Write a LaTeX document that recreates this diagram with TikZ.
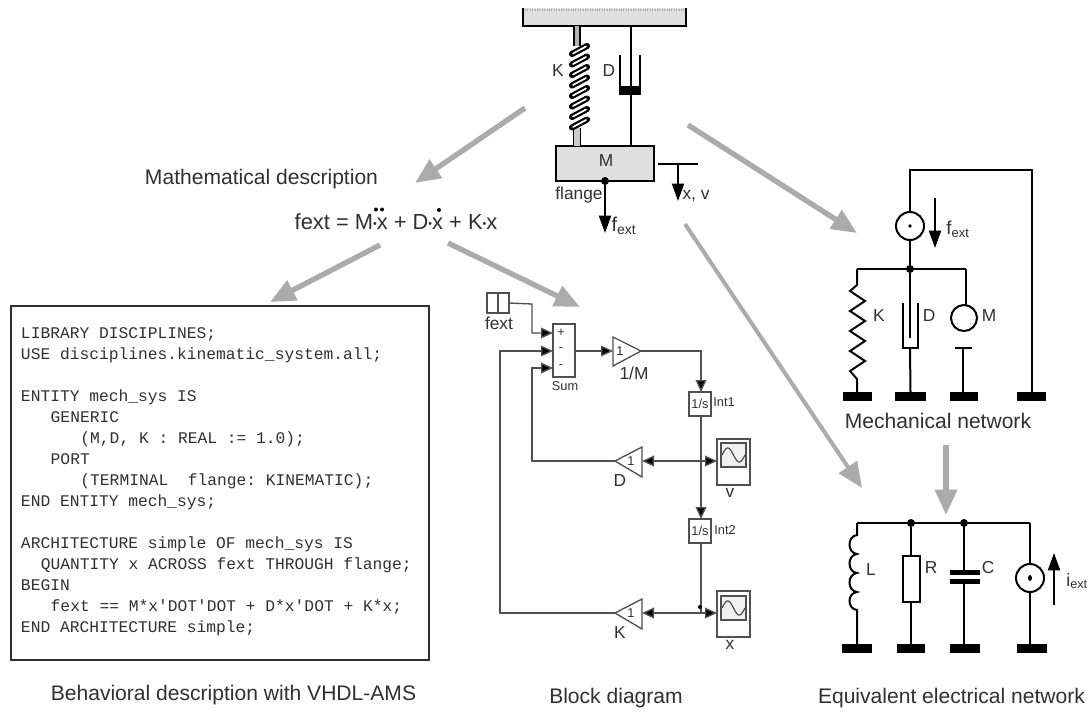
\documentclass[tikz,border=0pt]{standalone}
\usepackage{fontspec}
\setmainfont{Liberation Sans}
\setmonofont{Liberation Mono}
\usetikzlibrary{arrows.meta,calc,patterns}
\definecolor{ink}{HTML}{303030}
\definecolor{bigarrow}{HTML}{ABABAB}
\definecolor{blockline}{HTML}{505050}
\newcommand{\timesdot}{{\fontsize{8}{8}\selectfont\raisebox{1.5pt}{•}}}
\tikzset{
  txt/.style={inner sep=0pt,outer sep=0pt,text=ink,font=\fontsize{13}{15}\selectfont},
  ttl/.style={inner sep=0pt,outer sep=0pt,text=ink,font=\fontsize{15.8}{18}\selectfont},
  sml/.style={inner sep=0pt,outer sep=0pt,text=ink,font=\fontsize{9.6}{11}\selectfont},
  bigarr/.style={draw=bigarrow,line width=4pt,-{Triangle[length=19pt,width=16pt,fill=bigarrow]}},
  wire/.style={draw=black,line width=1.5pt},
  gnd/.style={fill=black,inner sep=0pt,outer sep=0pt,minimum height=6.75pt},
  flow/.style={draw=blockline,line width=1pt},
  tip/.style={flow,-{Triangle[length=9pt,width=8pt,fill=black]}},
  twotip/.style={flow,{Triangle[length=9pt,width=8pt,fill=black]}-{Triangle[length=9pt,width=8pt,fill=black]}},
  bbox/.style={draw=blockline,line width=1pt,inner sep=0pt,outer sep=0pt,fill=white},
  sarr/.style={draw=black,line width=1.5pt,-{Triangle[length=13pt,width=9pt,fill=black]}},
  jn/.style={circle,fill=black,inner sep=0pt,outer sep=0pt,minimum size=6pt},
}
\begin{document}
\begin{tikzpicture}[x=0.75pt,y=-0.75pt]
\useasboundingbox (0,0) rectangle (1089,711);

% ---------- mass-spring-damper ----------
\fill[gray!25] (523,8) rectangle (686,26);
\draw[wire] (523,8) -- (523,26) -- (686,26) -- (686,8);
\draw[gray!70,line width=.8pt,densely dotted] (525,10) -- (684,10);
\node[draw=black,line width=1.5pt,fill=gray!25,inner sep=0pt,minimum width=73.5pt,minimum height=26.25pt,outer sep=0pt] (mass) at (605,163.5) {};
\node[txt] (mlabel) at (606,161) {M};
\coordinate (ceilK) at (577,26);
\coordinate (ceilD) at (631,26);
\fill[gray!60] (574,26) rectangle (580,46);
\draw[black,line width=.9pt] (574,26) -- (574,46) (580,26) -- (580,46);
\draw[black,line width=.9pt] (574,128) -- (574,146) (580,128) -- (580,146);
\fill[gray!40] (574.4,128) rectangle (579.6,146);
\foreach \yy in {50,60.5,71,81.5,92,102.5,113,123.5}{
  \draw[black,line width=4.6pt,line cap=round] (572,\yy+4) -- (587,\yy-4);
  \draw[white,line width=1.3pt,line cap=round] (573,\yy+3.5) -- (586,\yy-3.5);
}
\draw[wire] (ceilD) -- (631,146);
\draw[black,line width=1.5pt] (620,55) -- (620,94) -- (640,94) -- (640,55);
\fill[black] (620,86) rectangle (640,94);
\node[txt] (klabel) at (558,71) {K};
\node[txt] (dlabel) at (609,71) {D};
\node[jn] (flangedot) at (605,181) {};
\node[txt] (flangelabel) at (579,195) {flange};
\coordinate (fend) at (605,233);
\draw[sarr] (flangedot) -- (fend);
\node[txt,font=\fontsize{15}{17}\selectfont] (fextlabel) at (624,226) {f\textsubscript{ext}};
\coordinate (xva) at (658,164);
\coordinate (xvb) at (698,164);
\coordinate (xvc) at (678,164);
\coordinate (xvd) at (678,201);
\draw[wire] (xva) -- (xvb);
\draw[sarr] (xvc) -- (xvd);
\node[txt] (xvlabel) at (696,196) {x, v};

% ---------- big gray arrows ----------
\coordinate (a1s) at (525,108); \coordinate (a1e) at (415,183);
\coordinate (a2s) at (380,245); \coordinate (a2e) at (270,302);
\coordinate (a3s) at (448,243); \coordinate (a3e) at (580,307);
\coordinate (a4s) at (688,125); \coordinate (a4e) at (857,233);
\coordinate (a5s) at (685,224); \coordinate (a5e) at (862,488);
\coordinate (a6s) at (946,445); \coordinate (a6e) at (946,515);
\draw[bigarr] (a1s) -- (a1e);
\draw[bigarr] (a2s) -- (a2e);
\draw[bigarr] (a3s) -- (a3e);
\draw[bigarr] (a4s) -- (a4e);
\draw[bigarr,line width=3pt] (a5s) -- (a5e);
\draw[bigarr] (a6s) -- (a6e);

% ---------- mathematical description ----------
\node[ttl] (mathtitle) at (261.5,179) {Mathematical description};
\node[ttl,font=\fontsize{16.4}{18}\selectfont] (equation) at (396,222) {fext = M\timesdot x + D\timesdot x + K\timesdot x};
\fill[black] (376,209.5) circle[radius=2] (382,209.5) circle[radius=2];
\fill[black] (439,210) circle[radius=2];

% ---------- VHDL-AMS box ----------
\node[draw=ink,line width=1.8pt,inner sep=0pt,outer sep=0pt,minimum width=313.5pt,minimum height=265.5pt] (codebox) at (220,483) {};
\node[anchor=north west,inner sep=0pt,outer sep=0pt,text=ink,align=left,font=\ttfamily\fontsize{12.2}{15.75}\selectfont] (code) at (21,328) {%
LIBRARY DISCIPLINES;\\
USE disciplines.kinematic\_system.all;\\
\mbox{}\\
ENTITY mech\_sys IS\\
\hspace*{22.3pt}GENERIC\\
\hspace*{44.6pt}(M,D, K : REAL := 1.0);\\
\hspace*{22.3pt}PORT\\
\hspace*{44.6pt}(TERMINAL\ \ flange: KINEMATIC);\\
END ENTITY mech\_sys;\\
\mbox{}\\
ARCHITECTURE simple OF mech\_sys IS\\
\hspace*{14.9pt}QUANTITY x ACROSS fext THROUGH flange;\\
BEGIN\\
\hspace*{22.3pt}fext == M*x'DOT'DOT + D*x'DOT + K*x;\\
END ARCHITECTURE simple;};
\node[ttl] (codetitle) at (233.5,695) {Behavioral description with VHDL-AMS};

% ---------- block diagram ----------
\node[bbox,minimum width=16.5pt,minimum height=15pt] (step) at (498,303) {};
\draw[blockline,line width=.8pt] (498,293) -- (498,313);
\node[txt] (steplabel) at (499,323) {fext};
\node[bbox,minimum width=16.5pt,minimum height=39.75pt] (sum) at (564,350.5) {};
\node[sml] (plus) at (561,333) {+};
\node[sml] (minusa) at (561,350) {-};
\node[sml] (minusb) at (561,367) {-};
\node[sml] (sumlabel) at (565,386) {Sum};
\coordinate (sumin1) at (553,333);
\coordinate (sumin2) at (553,351);
\coordinate (sumin3) at (553,368);
\coordinate (j1) at (532,304); \coordinate (j2) at (532,333);
\draw[tip] (step.east) -- (j1) -- (j2) -- (sumin1);
% gains
\coordinate (mgi) at (613,351); \coordinate (mgo) at (641,351);
\draw[flow,fill=white] (613,337) -- (mgo) -- (613,366) -- cycle;
\node[sml] (mgaintext) at (620,351) {1};
\node[txt] (mgainlabel) at (634,373) {1/M};
\draw[tip] (sum.east |- mgi) -- (mgi);
\node[bbox,minimum width=16.5pt,minimum height=18pt] (int1) at (700,404) {};
\node[sml] (int1text) at (700,404) {1/s};
\node[sml] (int1label) at (724,402) {Int1};
\node[bbox,minimum width=16.5pt,minimum height=18pt] (int2) at (700,531) {};
\node[sml] (int2text) at (700,531) {1/s};
\node[sml] (int2label) at (725,530) {Int2};
\coordinate (c1) at (701,351);
\draw[tip] (mgo) -- (c1) -- (c1 |- int1.north);
\draw[tip] (c1 |- int1.south) -- (c1 |- int2.north);
\coordinate (dgi) at (642,461); \coordinate (dgo) at (615,461);
\draw[flow,fill=white] (642,447) -- (dgo) -- (642,477) -- cycle;
\node[sml] (dgaintext) at (631,461) {1};
\node[txt] (dgainlabel) at (620,481) {D};
\coordinate (kgi) at (642,613); \coordinate (kgo) at (615,613);
\draw[flow,fill=white] (642,599) -- (kgo) -- (642,629) -- cycle;
\node[sml] (kgaintext) at (631,613) {1};
\node[txt] (kgainlabel) at (620,633) {K};
% scopes
\node[bbox,line width=1.2pt,minimum width=24.75pt,minimum height=34.5pt] (vscope) at (733.5,462) {};
\draw[blockline,line width=1pt,fill=gray!12] (721,443) rectangle (746,467);
\draw[blockline,line width=.9pt] plot[domain=0:360,samples=30] ({722+\x/360*23},{455-7*sin(\x)});
\node[txt] (vlabel) at (730,493) {v};
\node[bbox,line width=1.2pt,minimum width=24.75pt,minimum height=34.5pt] (xscope) at (733.5,614) {};
\draw[blockline,line width=1pt,fill=gray!12] (721,596) rectangle (746,620);
\draw[blockline,line width=.9pt] plot[domain=0:360,samples=30] ({722+\x/360*23},{608-7*sin(\x)});
\node[txt] (xlabel) at (730,645) {x};
\draw[twotip] (dgi) -- (vscope.west |- dgi);
\draw[twotip] (kgi) -- (xscope.west |- kgi);
\coordinate (c2) at (701,613);
\draw[flow] (c1 |- int2.south) -- (c2);
\node[circle,fill=black,inner sep=0pt,minimum size=3pt] (kdot) at (700,607) {};
\coordinate (l1) at (532,461);
\draw[tip] (dgo) -- (l1) -- (l1 |- sumin3) -- (sumin3);
\coordinate (l2) at (500,613);
\draw[tip] (kgo) -- (l2) -- (l2 |- sumin2) -- (sumin2);
\node[ttl] (blocktitle) at (616,698) {Block diagram};

% ---------- mechanical network ----------
\node[gnd,minimum width=21.75pt] (mg1) at (857.5,396.5) {};
\node[gnd,minimum width=23.25pt] (mg2) at (910.5,396.5) {};
\node[gnd,minimum width=21pt] (mg3) at (964,396.5) {};
\node[gnd,minimum width=21.75pt] (mg4) at (1031.5,396.5) {};
\node[draw=black,line width=1.5pt,circle,inner sep=0pt,minimum size=21pt] (fsrc) at (910,226) {};
\fill[black] (fsrc.center) circle[radius=1.8];
\node[jn] (mjn) at (910,269) {};
\coordinate (lt) at (910,170); \coordinate (rt) at (1032,170);
\draw[wire] (fsrc.north) -- (lt) -- (rt) -- (rt |- mg4.north);
\draw[wire] (fsrc.south) -- (mjn);
\coordinate (kt) at (857,269); \coordinate (mt) at (966,269);
\draw[wire] (kt) -- (mt);
\draw[wire] (kt) -- (857,285) -- (850,291) -- (865,301) -- (850,311) -- (865,321) -- (850,331) -- (865,341) -- (850,351) -- (865,361) -- (850,371) -- (857,379) -- (857,392);
\draw[wire] (mjn) -- (910,338);
\draw[wire] (903,303) -- (903,348) -- (918,348) -- (918,303);
\draw[wire] (910,348) -- (mg2.north);
\node[draw=black,line width=1.5pt,circle,inner sep=0pt,minimum size=19.5pt] (msrc) at (964,318) {};
\draw[wire] (mt) -- (966,305);
\coordinate (mbar) at (963,348);
\draw[wire] (955,348) -- (972,348);
\draw[wire] (mbar) -- (mbar |- mg3.north);
\coordinate (fa) at (935,198); \coordinate (fb) at (935,248);
\draw[sarr] (fa) -- (fb);
\node[txt,font=\fontsize{14}{16}\selectfont] (mfext) at (958,229) {f\textsubscript{ext}};
\node[txt] (mk) at (879,316) {K};
\node[txt] (md) at (929,316) {D};
\node[txt] (mm) at (989,316) {M};
\node[ttl] (mechtitle) at (938,421) {Mechanical network};

% ---------- electrical network ----------
\node[gnd,minimum width=22.5pt] (eg1) at (857,648.5) {};
\node[gnd,minimum width=21pt] (eg2) at (911,648.5) {};
\node[gnd,minimum width=22.5pt] (eg3) at (965,648.5) {};
\node[gnd,minimum width=22.5pt] (eg4) at (1032,648.5) {};
\node[jn] (ej1) at (911,523) {};
\node[jn] (ej2) at (964,523) {};
\coordinate (el) at (857,523); \coordinate (er) at (1030,523);
\draw[wire] (el) -- (er);
\draw[wire] (el) -- (857,535)
  .. controls (847,536) and (847,553) .. (857,554)
  .. controls (847,555) and (847,572) .. (857,573)
  .. controls (847,574) and (847,591) .. (857,592)
  .. controls (847,593) and (847,609) .. (857,610)
  -- (857,644);
\node[draw=black,line width=1.5pt,inner sep=0pt,outer sep=0pt,minimum width=12.75pt,minimum height=34.5pt] (res) at (911,579) {};
\draw[wire] (ej1) -- (res.north);
\draw[wire] (res.south) -- (eg2.north);
\fill[black] (950,570) rectangle (980,575);
\fill[black] (950,579) rectangle (980,584);
\draw[wire] (ej2) -- (964,570);
\draw[wire] (964,584) -- (964,644);
\node[draw=black,line width=1.5pt,circle,inner sep=0pt,minimum size=21pt] (isrc) at (1030,578) {};
\fill[black] (isrc.center) ellipse[x radius=2,y radius=3];
\draw[wire] (er) -- (isrc.north);
\draw[wire] (isrc.south) -- (1030,644);
\coordinate (ia) at (1054,605); \coordinate (ib) at (1054,553);
\draw[sarr] (ia) -- (ib);
\node[txt,font=\fontsize{13.5}{15}\selectfont] (eiext) at (1077,581) {i\textsubscript{ext}};
\node[txt] (el2) at (871,570) {L};
\node[txt] (er2) at (931,568) {R};
\node[txt] (ec2) at (988,568) {C};
\node[ttl] (electitle) at (951.5,698) {Equivalent electrical network};
\end{tikzpicture}
\end{document}
